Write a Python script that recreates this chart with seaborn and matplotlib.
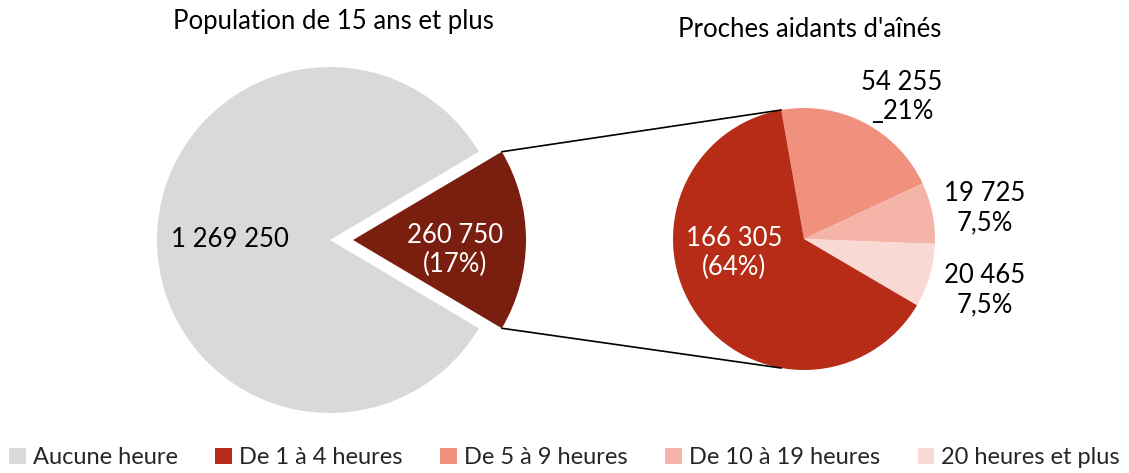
import matplotlib
matplotlib.use("Agg")
import matplotlib.pyplot as plt
import seaborn as sns
import numpy as np
from matplotlib.patches import Patch

sns.set_theme(style="white")
plt.rcParams['font.family'] = ['Lato', 'DejaVu Sans']

# Data
left_labels = ["Aidants", "Aucune heure"]
left_values = [260750, 1269250]
left_texts = ["260 750\n(17%)", "1 269 250"]

right_categories = ["De 5 à 9 heures", "De 10 à 19 heures", "20 heures et plus", "De 1 à 4 heures"]
right_values = [54255, 19725, 20465, 166305]
right_texts = ["54 255\n_21%", "19 725\n7,5%", "20 465\n7,5%", "166 305\n(64%)"]

legend_labels = ["Aucune heure", "De 1 à 4 heures", "De 5 à 9 heures", "De 10 à 19 heures", "20 heures et plus"]

col_gray = "#D9D9D9"
col_dark = "#7A1F0F"
col_red = "#B72C16"
col_salmon = "#F0917E"
col_light = "#F4B5A8"
col_lightest = "#F9D9D4"
legend_colors = [col_gray, col_red, col_salmon, col_light, col_lightest]

W, H = 1129, 473
fig = plt.figure(figsize=(W / 100, H / 100), dpi=100)
ax = fig.add_axes([0, 0, 1, 1])

# Left pie
lcx, lcy, lr = 330, H - 240, 173
expl = 23
frac = left_values[0] / sum(left_values)
start = -frac * 360 / 2
ax.pie(left_values, colors=[col_dark, col_gray], startangle=start, counterclock=True,
       center=(lcx, lcy), radius=lr, explode=[expl, 0], frame=True,
       wedgeprops=dict(linewidth=0))

# Right pie
rcx, rcy, rr = 804, H - 239, 131
ax.pie(right_values, colors=[col_salmon, col_light, col_lightest, col_red], startangle=100,
       counterclock=False, center=(rcx, rcy), radius=rr, frame=True,
       wedgeprops=dict(linewidth=0))
ax.set_xlim(0, W)
ax.set_ylim(0, H)
ax.set_aspect("equal")
ax.axis("off")

# Connecting lines
half = np.deg2rad(frac * 360 / 2)
ang_r = np.deg2rad(100)
for s in (1, -1):
    x0 = lcx + expl + lr * np.cos(half)
    y0 = lcy + s * lr * np.sin(half)
    x1 = rcx + rr * np.cos(ang_r)
    y1 = rcy + s * rr * np.sin(ang_r)
    ax.plot([x0, x1], [y0, y1], color="black", lw=1.2)

fs = 18.5
# Titles
ax.text(333, H - 22, "Population de 15 ans et plus", ha="center", va="center", fontsize=fs, color="black")
ax.text(810, H - 30, "Proches aidants d'aînés", ha="center", va="center", fontsize=fs, color="black")

# Labels
ax.text(230, H - 240, left_texts[1], ha="center", va="center", fontsize=fs, color="black")
ax.text(455, H - 250, left_texts[0], ha="center", va="center", fontsize=fs, color="white", linespacing=1.2)
ax.text(734, H - 253, right_texts[3], ha="center", va="center", fontsize=fs, color="white", linespacing=1.2)
ax.text(902, H - 97, right_texts[0], ha="center", va="center", fontsize=fs, color="black", linespacing=1.2)
ax.text(985, H - 208, right_texts[1], ha="center", va="center", fontsize=fs, color="black", linespacing=1.2)
ax.text(985, H - 290, right_texts[2], ha="center", va="center", fontsize=fs, color="black", linespacing=1.2)

handles = [Patch(facecolor=c, edgecolor="none") for c in legend_colors]
fig.legend(handles, legend_labels, loc="lower center", bbox_to_anchor=(0.5, -0.035), ncol=5,
           frameon=False, fontsize=17, handlelength=0.7, handleheight=0.7, handletextpad=0.3,
           columnspacing=1.6)

fig.savefig("out.png", dpi=100)
